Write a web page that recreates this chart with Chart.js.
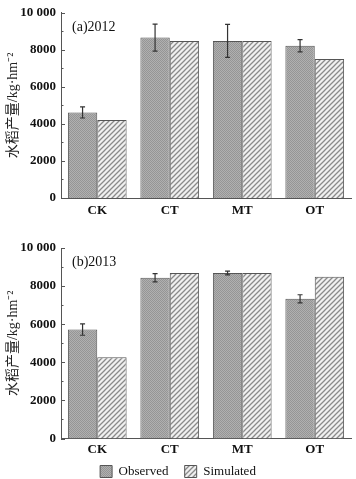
<!DOCTYPE html>
<html><head><meta charset="utf-8">
<script src="https://cdn.jsdelivr.net/npm/chart.js@4"></script>
<style>
html,body{margin:0;padding:0;background:#fff;width:356px;height:479px;overflow:hidden;position:relative}
#wa{position:absolute;left:0;top:0;width:356px;height:225px}
#wb{position:absolute;left:0;top:230px;width:356px;height:258px}
</style></head><body>
<div id="wa"><canvas id="ca"></canvas></div>
<div id="wb"><canvas id="cb"></canvas></div>
<script>
const categories = ['CK', 'CT', 'MT', 'OT'];
const seriesNames = ['Observed', 'Simulated'];
const obs2012 = [4620, 8660, 8480, 8220];
const err2012 = [300, 730, 890, 330];
const sim2012 = [4210, 8480, 8480, 7500];
const obs2013 = [5720, 8440, 8690, 7330];
const err2013 = [300, 215, 100, 215];
const sim2013 = [4270, 8690, 8690, 8490];
const yTicks = [0, 2000, 4000, 6000, 8000, 10000];
const yTitle = '水稻产量/kg·hm⁻²';
const panelLabels = ['(a)2012', '(b)2013'];

const SERIF = "'Liberation Serif','Times New Roman','Noto Sans CJK SC',serif";

function obsPattern() {
  const c = document.createElement('canvas'); c.width = 2; c.height = 2;
  const g = c.getContext('2d');
  g.fillStyle = '#b0b0b0'; g.fillRect(0, 0, 2, 2);
  g.fillStyle = '#959595'; g.fillRect(0, 0, 1, 1); g.fillRect(1, 1, 1, 1);
  return g.createPattern(c, 'repeat');
}
function simPattern() {
  const s = 5;
  const c = document.createElement('canvas'); c.width = s; c.height = s;
  const g = c.getContext('2d');
  g.fillStyle = '#f0f0f0'; g.fillRect(0, 0, s, s);
  g.strokeStyle = '#8a8a8a'; g.lineWidth = 1.3;
  g.beginPath();
  g.moveTo(-1, s + 1); g.lineTo(s + 1, -1);
  g.moveTo(-1, 1); g.lineTo(1, -1);
  g.moveTo(s - 1, s + 1); g.lineTo(s + 1, s - 1);
  g.stroke();
  return g.createPattern(c, 'repeat');
}

const errorBars = {
  id: 'errorBars',
  afterDatasetsDraw(chart, args, opts) {
    const ctx = chart.ctx, y = chart.scales.y;
    const meta = chart.getDatasetMeta(0);
    const vals = chart.data.datasets[0].data;
    ctx.save();
    ctx.strokeStyle = '#333'; ctx.lineWidth = 1.2;
    meta.data.forEach((bar, i) => {
      const e = opts.errors[i];
      const y1 = y.getPixelForValue(vals[i] + e), y2 = y.getPixelForValue(vals[i] - e);
      ctx.beginPath();
      ctx.moveTo(bar.x, y1); ctx.lineTo(bar.x, y2);
      ctx.moveTo(bar.x - 2.5, y1); ctx.lineTo(bar.x + 2.5, y1);
      ctx.moveTo(bar.x - 2.5, y2); ctx.lineTo(bar.x + 2.5, y2);
      ctx.stroke();
    });
    ctx.restore();
  }
};
const panelText = {
  id: 'panelText',
  afterDraw(chart, args, opts) {
    const ctx = chart.ctx, a = chart.chartArea;
    ctx.save();
    ctx.font = '14px ' + SERIF; ctx.fillStyle = '#111';
    ctx.textBaseline = 'middle'; ctx.textAlign = 'left';
    ctx.fillText(opts.text, a.left + 11, a.top + 14.5);
    const y = chart.scales.y;
    ctx.strokeStyle = '#555'; ctx.lineWidth = 1;
    ctx.beginPath();
    for (let v = 0; v <= 10000; v += 1000) {
      const py = Math.round(y.getPixelForValue(v)) + 0.5;
      const len = (v % 2000 === 0) ? 4 : 2.5;
      ctx.moveTo(a.left, py); ctx.lineTo(a.left + len, py);
    }
    ctx.stroke();
    ctx.restore();
  }
};

function makeChart(id, obs, sim, errs, label, padTop, xHeight, xPad, showLegend) {
  return new Chart(document.getElementById(id), {
    type: 'bar',
    data: {
      labels: categories,
      datasets: [
        { label: seriesNames[0], data: obs, backgroundColor: obsPattern(), borderColor: '#555', borderWidth: 1 },
        { label: seriesNames[1], data: sim, backgroundColor: simPattern(), borderColor: '#555', borderWidth: 1 }
      ]
    },
    options: {
      responsive: true, maintainAspectRatio: false, animation: false,
      devicePixelRatio: 1,
      datasets: { bar: { categoryPercentage: 0.81, barPercentage: 1.0 } },
      layout: { padding: { left: 5, right: 5, top: padTop, bottom: 0 } },
      plugins: {
        legend: showLegend ? {
          display: true, position: 'bottom',
          labels: {
            boxWidth: 12, boxHeight: 12, padding: 6.5, color: '#111', font: { family: SERIF, size: 13 },
            generateLabels(chart) {
              const items = Chart.defaults.plugins.legend.labels.generateLabels(chart);
              items.forEach((it, i) => { if (i === 0) it.text = it.text + '   '; });
              return items;
            }
          }
        } : { display: false },
        tooltip: { enabled: false },
        errorBars: { errors: errs },
        panelText: { text: label }
      },
      scales: {
        x: {
          grid: { display: false, drawTicks: false },
          border: { display: true, color: '#555', width: 1 },
          ticks: { padding: xPad, color: '#111', font: { family: SERIF, size: 13, weight: 'bold' } },
          afterFit(s) { s.height = xHeight; }
        },
        y: {
          min: 0, max: 10000,
          afterBuildTicks(s) { s.ticks = yTicks.map(v => ({ value: v })); },
          grid: { display: false, drawTicks: false },
          border: { display: true, color: '#555', width: 1 },
          ticks: {
            padding: 5, color: '#111', font: { family: SERIF, size: 13, weight: 'bold' },
            callback: v => v >= 10000 ? String(v).replace(/(\d+)(\d{3})$/, '$1 $2') : String(v)
          },
          title: { display: true, text: yTitle, color: '#222', padding: { top: 0, bottom: 0 }, font: { family: SERIF, size: 14 } },
          afterFit(s) { s.width = 56; }
        }
      }
    },
    plugins: [errorBars, panelText]
  });
}

makeChart('ca', obs2012, sim2012, err2012, panelLabels[0], 11, 27, 5, false);
makeChart('cb', obs2013, sim2013, err2013, panelLabels[1], 18, 20, 3, true);
</script>
</body></html>
